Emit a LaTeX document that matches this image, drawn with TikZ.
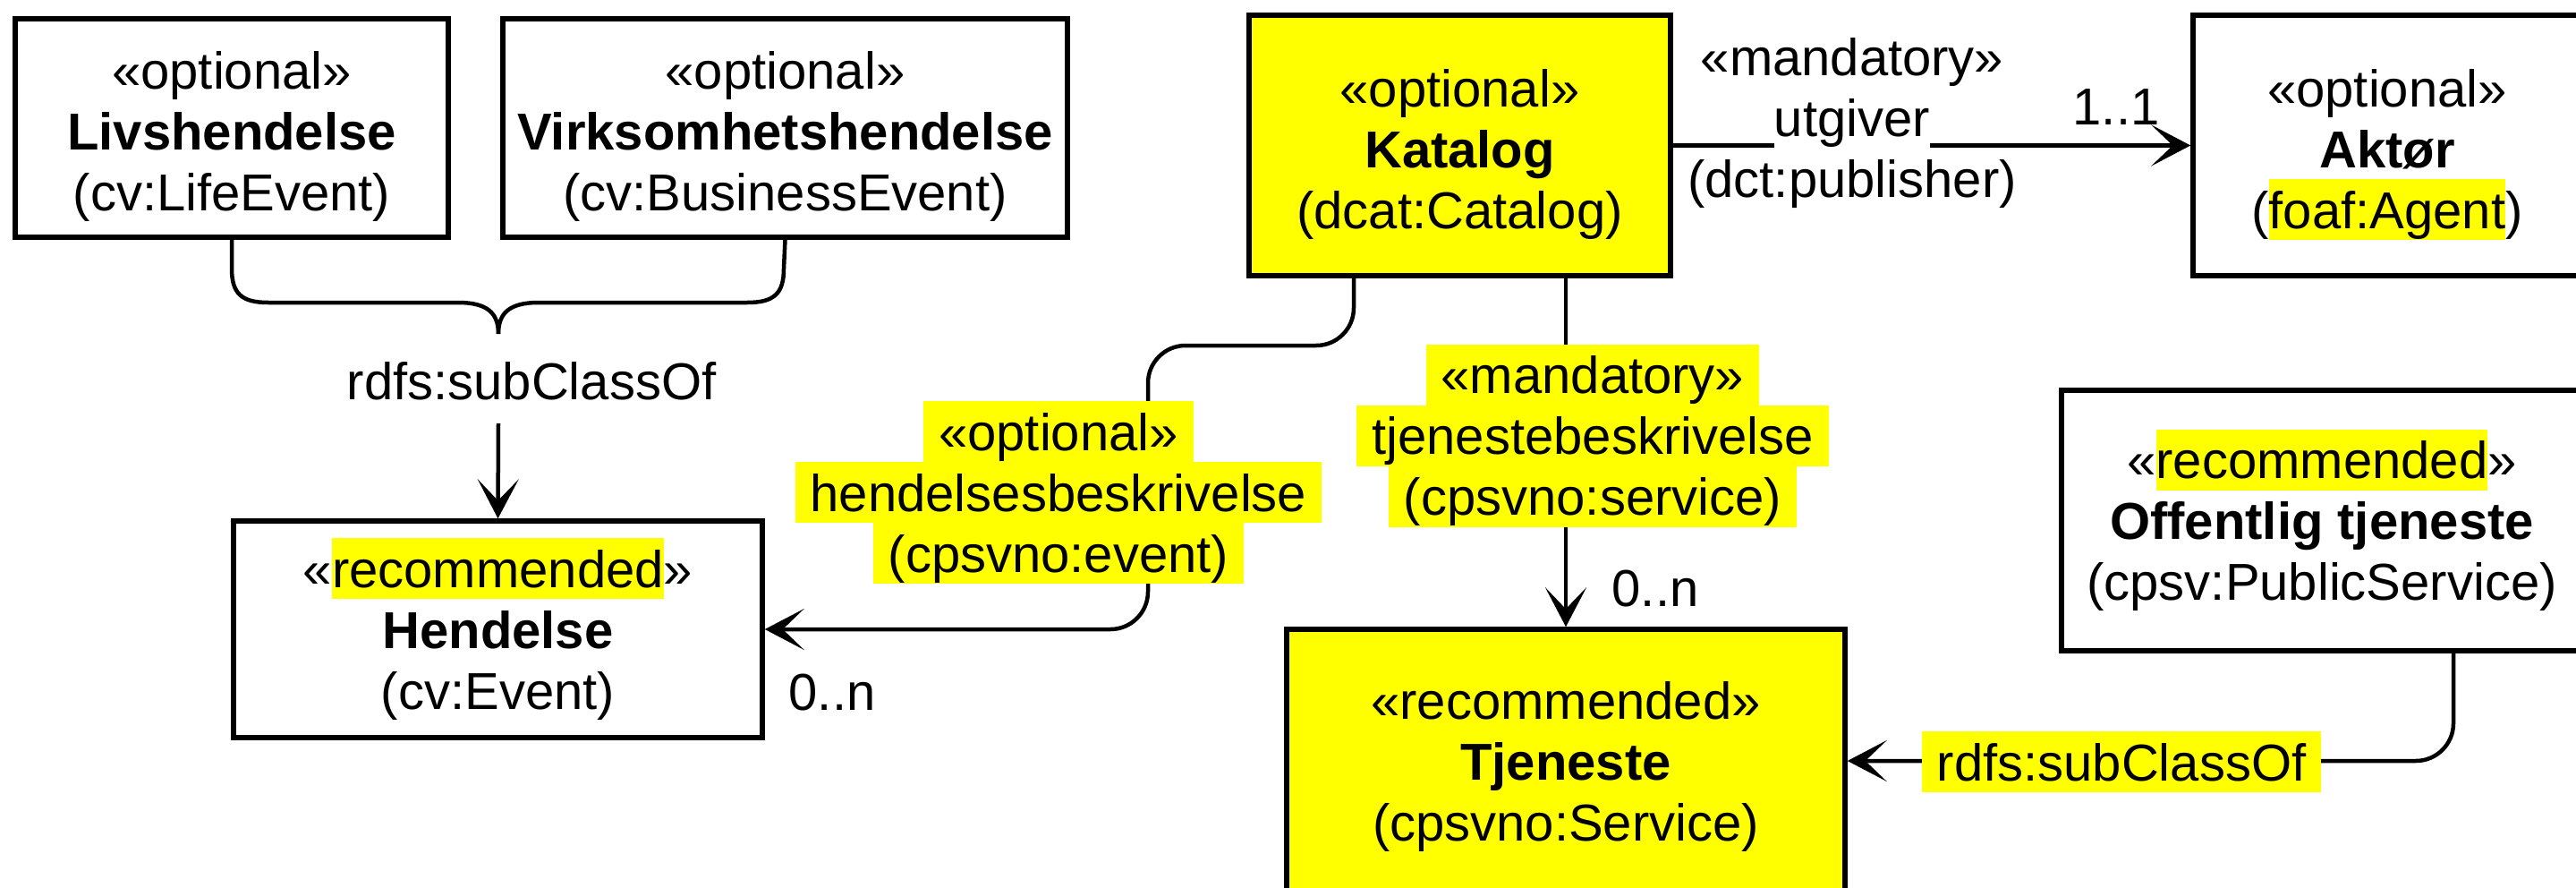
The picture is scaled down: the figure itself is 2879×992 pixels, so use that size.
\documentclass[tikz,border=0pt]{standalone}
\usepackage{fontspec}
\setmainfont{Liberation Sans}
\usetikzlibrary{arrows.meta}
\definecolor{hly}{HTML}{FFFF00}
\newcommand\sr{\rule[-13pt]{0pt}{68pt}}
\newcommand\srt{\rule[-13pt]{0pt}{76pt}}
\newcommand\hlb[1]{{\setlength\fboxsep{0pt}\colorbox{hly}{\sr#1}}}
\newcommand\hlp[1]{\hlb{\hspace{17pt}#1\hspace{17pt}}}
\newcommand\wlb[1]{{\setlength\fboxsep{0pt}\colorbox{white}{\sr#1}}}
\begin{document}
\begin{tikzpicture}[x=1pt,y=-1pt,
  every node/.style={font=\fontsize{58}{68}\selectfont, align=center, inner sep=0pt},
  umlbox/.style={draw, line width=5.5pt},
  conn/.style={line width=4.5pt, rounded corners=42pt},
  arr/.style={-{Stealth[length=44pt,width=46pt,inset=24pt]}},
]
\useasboundingbox (0,0) rectangle (2879,992);

% boxes
\node[umlbox, minimum width=484pt, minimum height=244pt] (livs) at (259,143)
  {\srt«optional»\\\sr\textbf{Livshendelse}\\\sr(cv:LifeEvent)};
\node[umlbox, minimum width=631pt, minimum height=244pt] (virks) at (877.5,143)
  {\srt«optional»\\\sr\textbf{Virksomhetshendelse}\\\sr(cv:BusinessEvent)};
\node[umlbox, fill=hly, minimum width=471pt, minimum height=291pt] (katalog) at (1631.5,162.5)
  {\srt«optional»\\\sr\textbf{Katalog}\\\sr(dcat:Catalog)};
\node[umlbox, minimum width=434pt, minimum height=291pt] (aktor) at (2668,162.5)
  {\srt«optional»\\\sr\textbf{Aktør}\\\sr(\hlb{foaf:Agent})};
\node[umlbox, minimum width=591pt, minimum height=242pt] (hendelse) at (556.5,703)
  {\sr«\hlb{recommended}»\\\sr\textbf{Hendelse}\\\sr(cv:Event)};
\node[umlbox, fill=hly, minimum width=624pt, minimum height=294pt] (tjeneste) at (1750,850)
  {\sr«recommended»\\\sr\textbf{Tjeneste}\\\sr(cpsvno:Service)};
\node[umlbox, minimum width=582pt, minimum height=291pt] (offentlig) at (2595,581.5)
  {\sr«\hlb{recommended}»\\\sr\textbf{Offentlig tjeneste}\\\sr(cpsv:PublicService)};

% brace (subClassOf from the two event kinds)
\coordinate (tip) at (557,373);
\draw[line width=4.5pt] (livs.south) -- (259,300) .. controls (259,328) and (270,338) .. (300,338)
  -- (512,338) .. controls (545,338) and (557,350) .. (tip);
\draw[line width=4.5pt] (virks.south) -- (876,300) .. controls (876,328) and (865,338) .. (835,338)
  -- (602,338) .. controls (569,338) and (557,350) .. (tip);
\node[anchor=base] (sub1) at (594,446) {rdfs:subClassOf};
\coordinate (s1) at (557,473);
\draw[conn,arr] (s1) -- (hendelse.north);

% utgiver
\draw[conn,arr] (katalog.east) -- (aktor.west);
\node (utg) at (2070,132) {\sr«mandatory»\\\wlb{utgiver}\\\sr(dct:publisher)};
\node[anchor=base] (m11) at (2365,140) {1..1};

% hendelsesbeskrivelse
\coordinate (k1) at (1513,309);
\coordinate (k2) at (1283,386);
\draw[conn,arr] (k1) |- (k2) |- (hendelse.east);
\node (hlab) at (1183,550) {\hlp{«optional»}\\\hlp{hendelsesbeskrivelse}\\\hlp{(cpsvno:event)}};
\node[anchor=base] (m0n1) at (930,793) {0..n};

% tjenestebeskrivelse
\draw[conn,arr] (tjeneste.north |- katalog.south) -- (tjeneste.north);
\node (tlab) at (1780,486.5) {\hlp{«mandatory»}\\\hlp{tjenestebeskrivelse}\\\hlp{(cpsvno:service)}};
\node[anchor=base] (m0n2) at (1850,677) {0..n};

% public service subclass
\coordinate (o1) at (2742,727);
\draw[conn,arr] (o1) |- (tjeneste.east);
\node (sub2) at (2371,851) {\hlp{rdfs:subClassOf}};
\end{tikzpicture}
\end{document}
